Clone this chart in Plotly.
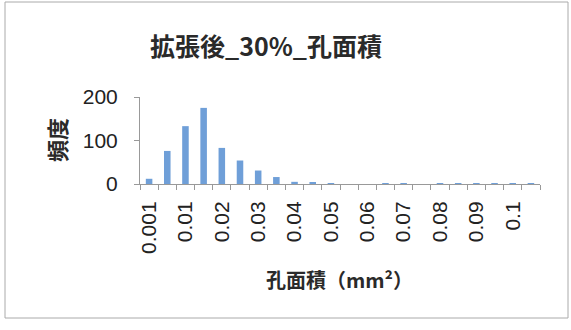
import plotly.graph_objects as go

categories = ["0.001", "0.005", "0.01", "0.015", "0.02", "0.025", "0.03", "0.035",
              "0.04", "0.045", "0.05", "0.055", "0.06", "0.065", "0.07", "0.075",
              "0.08", "0.085", "0.09", "0.095", "0.1", "次の級"]
counts = [12, 76, 133, 175, 83, 54, 31, 16, 5, 4, 1, 0, 0, 1, 1, 0, 1, 1, 1, 1, 1, 1]
shown_labels = ["0.001", "0.01", "0.02", "0.03", "0.04", "0.05", "0.06", "0.07", "0.08", "0.09", "0.1"]
y_ticks = [0, 100, 200]

positions = list(range(len(categories)))
label_positions = [categories.index(l) for l in shown_labels]

W, H = 571, 330
L, R, T, B = 140, 31, 97, 146
pw, ph = W - L - R, H - T - B

def px_x(p):
    return (p - L) / pw

def px_y(p):
    return (H - B - p) / ph

fig = go.Figure()
fig.add_trace(go.Bar(x=positions, y=counts, width=0.36,
                     marker=dict(color="#6f9fd8", line=dict(width=0)),
                     hovertext=categories))

axis_font = dict(family="Liberation Sans, Arial, sans-serif", size=21, color="#222")
cjk = "Noto Sans CJK JP, sans-serif"

fig.update_layout(
    width=W, height=H,
    margin=dict(l=L, r=R, t=T, b=B),
    paper_bgcolor="white", plot_bgcolor="white",
    showlegend=False,
    xaxis=dict(range=[-0.5, len(categories) - 0.5], tickmode="array",
               tickvals=label_positions, ticktext=shown_labels, tickangle=-90,
               ticks="", showgrid=False, zeroline=False, showline=True,
               linecolor="#999", linewidth=1, tickfont=axis_font,
               ticklabelstandoff=8,
               minor=dict(tickmode="linear", tick0=-0.5, dtick=1, ticks="outside",
                          ticklen=5, tickcolor="#999", showgrid=False)),
    yaxis=dict(range=[0, 200], tickmode="array", tickvals=y_ticks,
               ticks="outside", ticklen=5, tickcolor="#999", showgrid=False,
               zeroline=False, showline=True, linecolor="#999", linewidth=1,
               tickfont=axis_font, ticklabelstandoff=12),
    shapes=[dict(type="rect", xref="paper", yref="paper",
                 x0=px_x(5), x1=px_x(568), y0=px_y(318), y1=px_y(2),
                 line=dict(color="#aaa", width=1), fillcolor="rgba(0,0,0,0)")],
    annotations=[
        dict(text="<b>拡張後_30%_孔面積</b>", xref="paper", yref="paper",
             x=px_x(266), y=px_y(45), showarrow=False, xanchor="center", yanchor="middle",
             font=dict(family=cjk, size=25, color="#2a2a2a")),
        dict(text="<b>頻度</b>", xref="paper", yref="paper", textangle=-90,
             x=px_x(56), y=px_y(140), showarrow=False, xanchor="center", yanchor="middle",
             font=dict(family=cjk, size=22, color="#2a2a2a")),
        dict(text="<b>孔面積（mm²）</b>", xref="paper", yref="paper",
             x=px_x(339), y=px_y(279), showarrow=False, xanchor="center", yanchor="middle",
             font=dict(family=cjk, size=20, color="#2a2a2a")),
    ],
)

fig.write_html("out.html")
